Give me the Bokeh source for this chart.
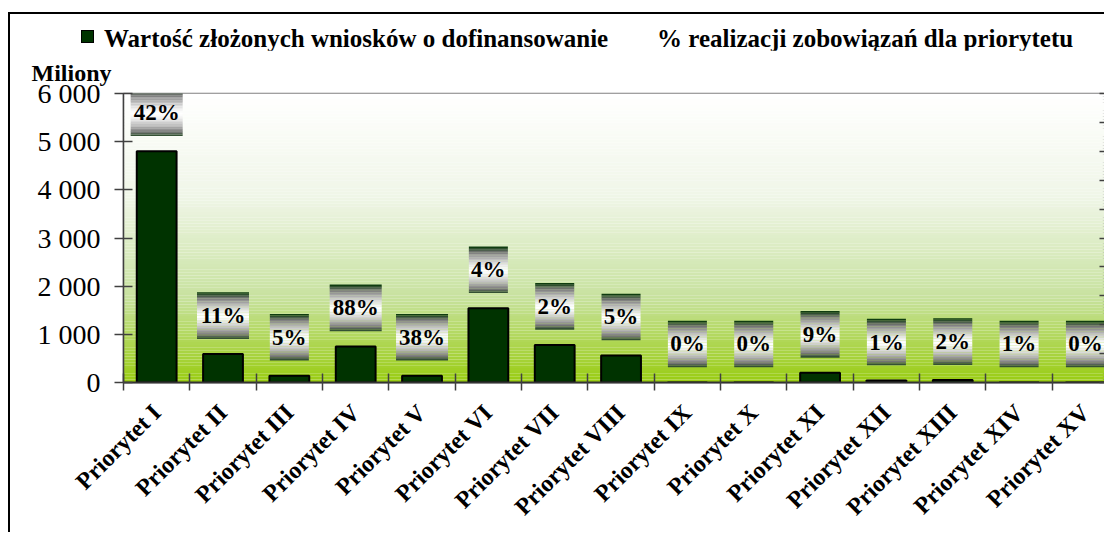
import math
from bokeh.plotting import figure
from bokeh.layouts import column
from bokeh.models import Range1d, FixedTicker, LinearAxis, Title, Div
from bokeh.core.properties import value
from bokeh.embed import file_html
from bokeh.resources import INLINE

# ---------------- data ----------------
categories = ["Priorytet I", "Priorytet II", "Priorytet III", "Priorytet IV", "Priorytet V",
              "Priorytet VI", "Priorytet VII", "Priorytet VIII", "Priorytet IX", "Priorytet X",
              "Priorytet XI", "Priorytet XII", "Priorytet XIII", "Priorytet XIV", "Priorytet XV"]
wnioski = [4800, 590, 140, 750, 140, 1540, 780, 560, 0, 0, 200, 40, 50, 0, 0]
realizacja = [42, 11, 5, 88, 38, 4, 2, 5, 0, 0, 9, 1, 2, 1, 0]
y_ticks = [0, 1000, 2000, 3000, 4000, 5000, 6000]
y_tick_labels = ["0", "1 000", "2 000", "3 000", "4 000", "5 000", "6 000"]
pct_ticks = [0.0, 0.1, 0.2, 0.3, 0.4, 0.5, 0.6, 0.7, 0.8, 0.9, 1.0]
legend_labels = ["Wartość złożonych wniosków o dofinansowanie",
                 "% realizacji zobowiązań dla priorytetu"]
unit_label = "Miliony"

FONT = "Liberation Serif"
BAR_FILL = "#003300"
n = len(categories)
centers = [i + 0.5 for i in range(n)]
boundaries = [float(i) for i in range(n)]
pct_frac = [v / 100 for v in realizacja]

W = 1094
LEG_H = 36
MAIN_H = 482
cat_px = 66.34

# ---------------- legend strip ----------------
legend_html = (
    '<div style="position:relative;width:%dpx;height:%dpx;font-family:\'%s\';font-weight:bold;'
    'font-size:25px;color:black;line-height:1;white-space:nowrap;">'
    '<span style="position:absolute;left:71px;top:16px;width:13px;height:13px;'
    'background:%s;border:1px solid #000;"></span>'
    '<span style="position:absolute;left:94px;top:12px;">%s</span>'
    '<span style="position:absolute;left:647px;top:12px;">%s</span>'
    '</div>' % (W, LEG_H, FONT, BAR_FILL, legend_labels[0], legend_labels[1]))
legend_div = Div(text=legend_html, width=W, height=LEG_H, margin=(0, 0, 0, 0))

# ---------------- main chart ----------------
FL, FT, FB = 113, 40, 332
p = figure(width=W, height=MAIN_H, title=None,
           x_range=Range1d(0, (W - FL) / cat_px), y_range=Range1d(0, 6000),
           output_backend="svg", toolbar_location=None,
           min_border_left=FL, min_border_right=0, min_border_top=FT, min_border_bottom=MAIN_H - FB,
           border_fill_color="white", background_fill_color="white",
           outline_line_color="#808080", outline_line_width=1.5)
p.grid.visible = False

# background gradient (white -> yellow-green)
stops = [(0.0, (255, 255, 255)), (0.35, (240, 246, 232)), (0.7, (200, 226, 160)), (1.0, (153, 204, 17))]
def grad(s):
    for (a, ca), (b, cb) in zip(stops[:-1], stops[1:]):
        if a <= s <= b:
            t = (s - a) / (b - a)
            return "#%02x%02x%02x" % tuple(int(round(ca[k] + (cb[k] - ca[k]) * t)) for k in range(3))
    return "#99cc11"
nb = 100
band = 6000 / nb
p.quad(left=0, right=15, bottom=[i * band for i in range(nb)], top=[(i + 1) * band for i in range(nb)],
       fill_color=[grad(1 - (i + 0.5) / nb) for i in range(nb)], line_color=None)

# bars
bars = p.vbar(x=centers, top=wnioski, width=0.6, fill_color=BAR_FILL, line_color="black", line_width=2)

# secondary (percentage) axis and invisible percentage series
p.extra_y_ranges = {"pct": Range1d(0, 1)}
pct_line = p.line(x=centers, y=pct_frac, y_range_name="pct", line_alpha=0)
rax = LinearAxis(y_range_name="pct", ticker=FixedTicker(ticks=pct_ticks),
                 major_tick_in=5, major_tick_out=0, minor_tick_line_color=None,
                 axis_line_color=None, major_tick_line_color="#404040", major_tick_line_width=1.5,
                 major_label_text_font_size="0px", major_label_standoff=0)
p.add_layout(rax, "right")

# percentage labels in gradient boxes
offset = 800
box_h = 967
label_y = [v + offset for v in wnioski]
texts = ["%d%%" % v for v in realizacja]
ns = 30
xs, ys, ws, cs = [], [], [], []
dark = (0, 51, 0)
def box_color(t):
    d = min(abs(t - 0.52) / 0.52, 1.0)
    if d < 0.75:
        u = (d / 0.75) ** 1.5
        c0, c1 = (255, 255, 255), (120, 120, 120)
    else:
        u = (d - 0.75) / 0.25
        c0, c1 = (120, 120, 120), dark
    return "#%02x%02x%02x" % tuple(int(round(c0[k] + (c1[k] - c0[k]) * u)) for k in range(3))
for c, ly, tx in zip(centers, label_y, texts):
    w = 13 * len(tx) + 13
    for j in range(ns):
        t = (j + 0.5) / ns  # from top
        xs.append(c)
        ys.append(ly + box_h / 2 - t * box_h)
        ws.append(w)
        cs.append(box_color(t))
p.rect(x=xs, y=ys, width=ws, height=box_h / ns * 1.05, width_units="screen",
       fill_color=cs, line_color=None)
p.text(x=centers, y=label_y, text=texts, text_font=value(FONT), text_font_style="bold",
       text_font_size="23px", text_align="center", text_baseline="middle", text_color="black")

# x axis
xa = p.xaxis[0]
xa.ticker = FixedTicker(ticks=centers, minor_ticks=boundaries)
xa.major_label_overrides = {c: name for c, name in zip(centers, categories)}
xa.major_tick_in = 0
xa.major_tick_out = 0
xa.minor_tick_in = 9
xa.minor_tick_out = 8
xa.minor_tick_line_color = "#404040"
xa.minor_tick_line_width = 1.5
xa.axis_line_color = "#333333"
xa.axis_line_width = 2
xa.major_label_orientation = math.pi / 4
xa.major_label_text_font = FONT
xa.major_label_text_font_style = "bold"
xa.major_label_text_font_size = "24px"
xa.major_label_text_color = "black"
xa.major_label_standoff = 18

# y axis
ya = p.yaxis[0]
ya.ticker = FixedTicker(ticks=y_ticks)
ya.major_label_overrides = {t: l for t, l in zip(y_ticks, y_tick_labels)}
ya.major_tick_in = 9
ya.major_tick_out = 9
ya.minor_tick_line_color = None
ya.major_tick_line_color = "#404040"
ya.major_tick_line_width = 1.5
ya.axis_line_color = "#404040"
ya.axis_line_width = 1.5
ya.major_label_text_font = FONT
ya.major_label_text_font_size = "28px"
ya.major_label_text_color = "black"
ya.major_label_standoff = 14

# unit label
p.add_layout(Title(text=unit_label, align="left", offset=-92, text_font=FONT, text_font_style="bold",
                   text_font_size="24px", text_color="black", standoff=15), "above")

layout = column(legend_div, p, spacing=0,
                styles={"border-left": "2px solid black", "border-top": "2px solid black",
                        "margin-left": "8px", "margin-top": "12px"})

open("out.html", "w").write(file_html(layout, INLINE))
